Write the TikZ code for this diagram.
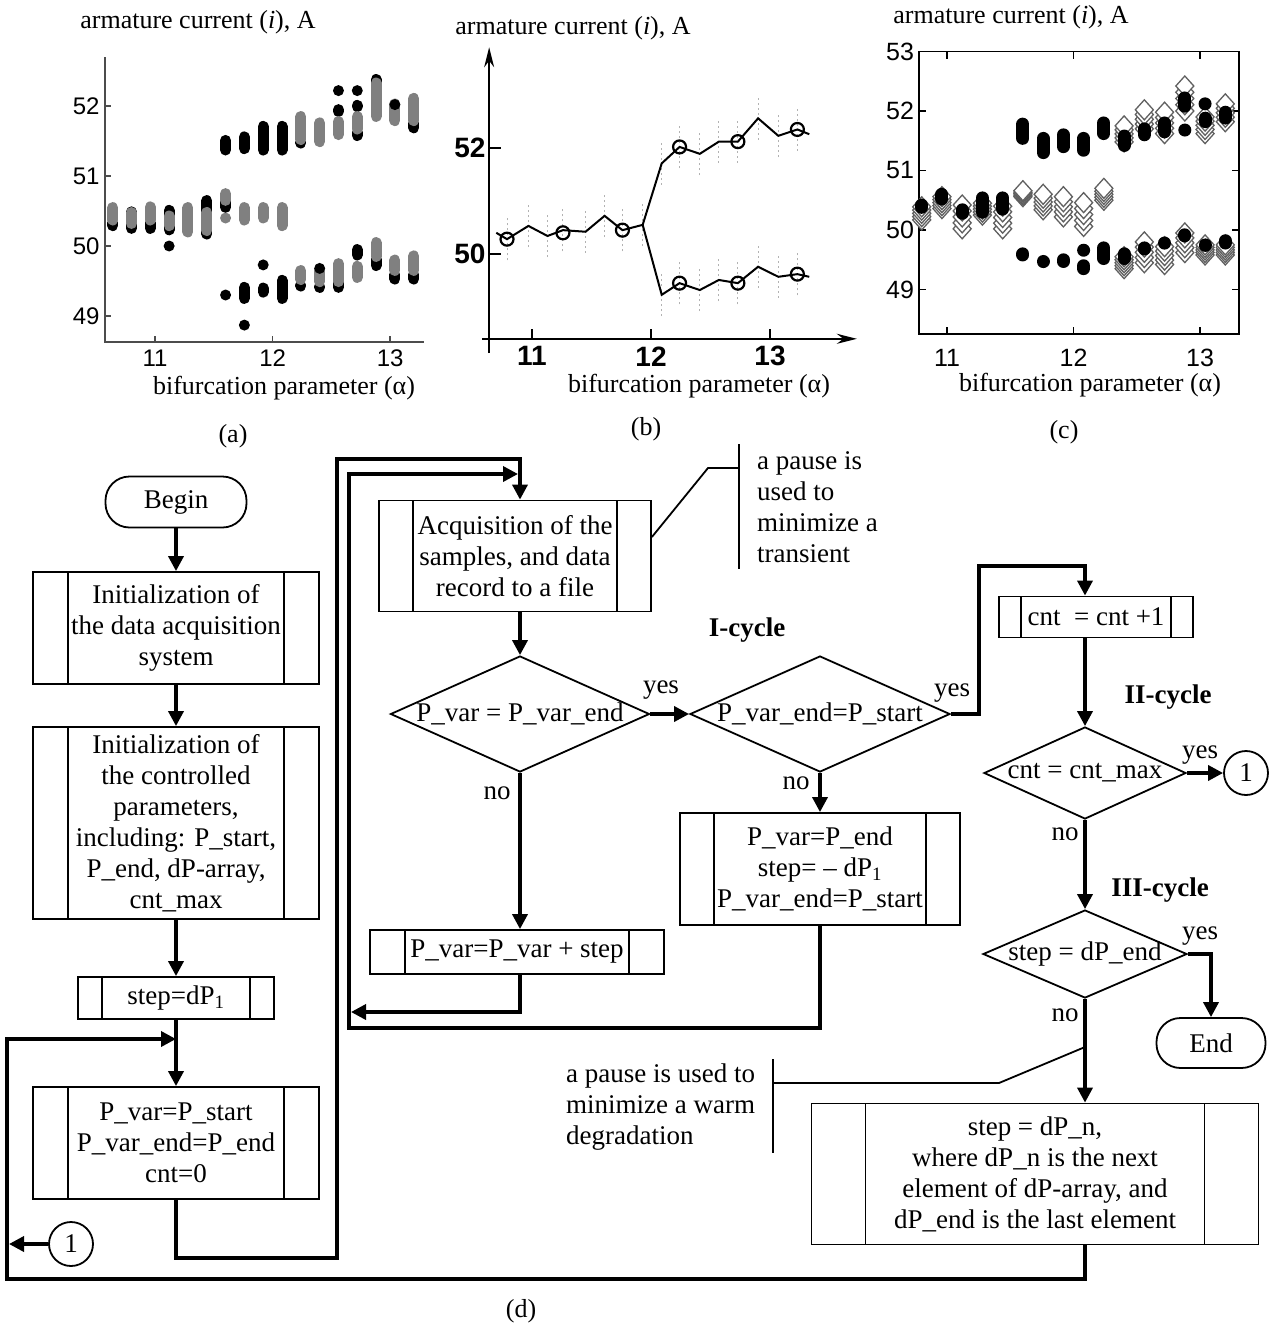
\documentclass[tikz,border=0pt]{standalone}
\usepackage{fontspec}
\setmainfont{Liberation Serif}
\newfontfamily\sansnum{Liberation Sans}
\usetikzlibrary{calc,positioning,arrows.meta,shapes.geometric}

\newcommand{\flowfont}{\fontsize{27}{31}\selectfont}
\newcommand{\plotfont}{\fontsize{26}{30}\selectfont}
\newcommand{\dtext}[1]{\makebox[0pt]{#1}}

\begin{document}
\begin{tikzpicture}[x=1pt,y=-1pt,
  procbox/.style={draw, rectangle, line width=1.8pt, inner sep=2pt, align=center, font=\flowfont,
    path picture={\draw[line width=1.8pt]
      ([xshift=#1]path picture bounding box.north west) -- ([xshift=#1]path picture bounding box.south west)
      ([xshift=-#1]path picture bounding box.north east) -- ([xshift=-#1]path picture bounding box.south east);}},
  procbox/.default=35pt,
  decision/.style={draw, diamond, line width=1.8pt, inner sep=0pt, font=\flowfont},
  terminal/.style={draw, rectangle, rounded corners=24pt, line width=1.8pt, font=\flowfont},
  joint/.style={draw, circle, line width=1.8pt, minimum size=44pt, inner sep=0pt, font=\flowfont},
  tag/.style={font=\flowfont, inner sep=0pt},
  cyclelabel/.style={font=\flowfont\bfseries, inner sep=0pt},
  flow/.style={line width=3.5pt, -{Triangle[length=15pt,width=15pt]}},
  note/.style={line width=1.8pt},
  plottext/.style={font=\plotfont, inner sep=0pt},
  ]

  \useasboundingbox (0,0) rectangle (1271,1328);
  \fill[white] (0,0) rectangle (1271,1328);

  % plot (a)
  \begin{scope}[shift={(-1138.6,3746)}, x={(117.6pt,0pt)}, y={(0pt,70pt)}]
    \draw[gray!60!black, line width=1.5pt] (10.575,52.70) -- (10.575,48.63) -- (13.29,48.63);
    \foreach \v in {49,50,51,52} {
      \draw[gray!60!black, line width=1.5pt] (10.575,\v) -- ++(6pt,0pt);
      \node (ay\v) [anchor=east, font=\sansnum\fontsize{24}{24}\selectfont, inner sep=0pt] at (10.53,\v) {\v};
    }
    \foreach \a in {11,12,13} {
      \draw[gray!60!black, line width=1.5pt] (\a,48.63) -- ++(0pt,6pt);
      \node (ax\a) [font=\sansnum\fontsize{24}{24}\selectfont, inner sep=0pt] at (\a,48.4) {\a};
    }
    \foreach \a/\lo/\hi/\c in {10.64/50.22/50.40/black, 10.64/50.30/50.62/gray,
        10.80/50.18/50.56/black, 10.80/50.25/50.55/gray,
        10.96/50.18/50.40/black, 10.96/50.30/50.63/gray,
        11.12/50.16/50.58/black, 11.12/50.22/50.50/gray,
        11.28/50.13/50.62/gray,
        11.44/50.10/50.72/black, 11.44/50.15/50.55/gray,
        11.60/51.30/51.58/black, 11.60/50.48/50.70/black, 11.60/50.58/50.82/gray,
        11.76/51.32/51.63/black, 11.76/50.30/50.62/gray, 11.76/49.18/49.48/black,
        11.92/51.30/51.78/black, 11.92/50.33/50.62/gray, 11.92/49.27/49.47/black,
        12.08/51.30/51.78/black, 12.08/50.22/50.62/gray, 12.08/49.18/49.58/black,
        12.24/51.40/51.55/black, 12.24/51.45/51.92/gray, 12.24/49.37/49.50/black, 12.24/49.45/49.72/gray,
        12.40/51.42/51.83/gray, 12.40/49.35/49.48/black, 12.40/49.42/49.72/gray,
        12.56/51.85/52.02/black, 12.56/51.52/51.85/gray, 12.56/49.40/49.48/black, 12.56/49.42/49.82/gray,
        12.72/51.55/51.65/black, 12.72/51.92/52.08/black, 12.72/51.60/51.92/gray, 12.72/49.80/50.02/black, 12.72/49.48/49.78/gray,
        12.88/51.98/52.45/black, 12.88/51.78/52.40/gray, 12.88/49.65/49.88/black, 12.88/49.78/50.12/gray,
        13.04/51.72/52.10/gray, 13.04/49.52/49.60/black, 13.04/49.58/49.87/gray,
        13.20/51.68/51.76/black, 13.20/51.72/52.18/gray, 13.20/49.52/49.60/black, 13.20/49.58/49.93/gray}
      \draw[\c, line width=11pt, line cap=round] (\a,\lo) ++(0pt,5pt) -- ($(\a,\hi)+(0pt,-5pt)$);
    \foreach \a/\v/\c in {11.12/50.00/black, 11.60/50.40/gray, 11.60/49.30/black, 11.76/48.87/black,
        11.92/49.73/black, 12.40/49.68/black, 12.56/52.22/black, 12.72/52.22/black, 13.04/52.02/black}
      \fill[\c] (\a,\v) circle[radius=5.5pt];
  \end{scope}
  \node (TitleA) [plottext] at (198,22) {armature current (\textit{i}), A};
  \node (AxisA) [plottext] at (284,388) {bifurcation parameter (α)};
  \node (CapA) [plottext] at (233,436) {(a)};

  % plot (b)
  \begin{scope}[shift={(-777,2904)}, x={(119pt,0pt)}, y={(0pt,53pt)}]
    \foreach \a/\v in {10.79/50.28, 10.97/50.53, 11.13/50.34, 11.26/50.45, 11.45/50.42, 11.61/50.72,
        11.76/50.45, 11.93/50.55, 12.09/51.71, 12.24/52.02, 12.41/51.89, 12.57/52.12, 12.73/52.12,
        12.90/52.56, 13.07/52.23, 13.23/52.35, 12.09/49.23, 12.24/49.45, 12.41/49.32, 12.57/49.51,
        12.73/49.45, 12.90/49.76, 13.07/49.57, 13.23/49.62}
      \draw[gray!60, line width=1pt, dash pattern=on 2pt off 3pt] (\a,\v-0.4) -- (\a,\v+0.4);
    \draw[line width=2pt, -{Stealth[length=20pt,width=10pt]}] (10.64,48.13) -- (10.64,53.9);
    \draw[line width=2pt, -{Stealth[length=20pt,width=10pt]}] (10.58,48.40) -- (13.73,48.40);
    \foreach \v in {50,52} {
      \draw[line width=2pt] (10.64,\v) -- ++(12pt,0pt);
      \node (by\v) [anchor=east, font=\sansnum\bfseries\fontsize{28}{28}\selectfont, inner sep=0pt] at (10.61,\v) {\v};
    }
    \foreach \a in {11,12,13} {
      \draw[line width=2pt] (\a,48.40) -- ++(0pt,10pt);
      \node (bx\a) [font=\sansnum\bfseries\fontsize{28}{28}\selectfont, inner sep=0pt] at (\a,48.07) {\a};
    }
    \draw[line width=2pt] plot coordinates {(10.70,50.40) (10.79,50.28) (10.97,50.53) (11.13,50.34)
        (11.26,50.45) (11.45,50.42) (11.61,50.72) (11.76,50.45) (11.93,50.55) (12.09,51.71)
        (12.24,52.02) (12.41,51.89) (12.57,52.12) (12.73,52.12) (12.90,52.56) (13.07,52.23)
        (13.23,52.35) (13.33,52.26)};
    \draw[line width=2pt] plot coordinates {(11.93,50.55) (12.09,49.23) (12.24,49.45) (12.41,49.32)
        (12.57,49.51) (12.73,49.45) (12.90,49.76) (13.07,49.57) (13.23,49.62) (13.33,49.57)};
    \foreach \a/\v in {10.79/50.28, 11.26/50.40, 11.76/50.45, 12.24/52.02, 12.73/52.12, 13.23/52.35,
        12.24/49.45, 12.73/49.45, 13.23/49.62}
      \draw[line width=2.2pt] (\a,\v) circle[radius=6.5pt];
  \end{scope}
  \node (TitleB) [plottext] at (573,28) {armature current (\textit{i}), A};
  \node (AxisB) [plottext] at (699,386) {bifurcation parameter (α)};
  \node (CapB) [plottext] at (646,429) {(b)};

  % plot (c)
  \begin{scope}[shift={(-444.5,3205)}, x={(126.5pt,0pt)}, y={(0pt,59.5pt)}]
    \draw[line width=1.5pt] (10.78,48.25) rectangle (13.31,53.0);
    \foreach \v in {49,50,51,52,53} {
      \draw[line width=1.5pt] (10.78,\v) -- ++(7pt,0pt) (13.31,\v) -- ++(-7pt,0pt);
      \node (cy\v) [anchor=east, font=\sansnum\fontsize{25}{25}\selectfont, inner sep=0pt] at (10.74,\v) {\v};
    }
    \foreach \a in {11,12,13} {
      \draw[line width=1.5pt] (\a,48.25) -- ++(0pt,7pt) (\a,53.0) -- ++(0pt,-7pt);
      \node (cx\a) [font=\sansnum\fontsize{25}{25}\selectfont, inner sep=0pt] at (\a,47.85) {\a};
    }
    \foreach \a/\lo/\hi in {10.80/50.17/50.39, 10.96/50.36/50.56, 11.12/50.02/50.42, 11.28/50.25/50.45,
        11.44/50.02/50.40, 11.60/50.56/50.66, 11.76/50.34/50.60, 11.92/50.22/50.56, 12.08/50.06/50.46,
        12.24/50.50/50.70, 12.40/51.48/51.75, 12.40/49.35/49.55, 12.56/51.70/52.02, 12.56/49.45/49.80,
        12.72/51.62/51.98, 12.72/49.42/49.72, 12.88/52.00/52.42, 12.88/49.62/49.95,
        13.04/51.62/51.90, 13.04/49.58/49.75, 13.20/51.82/52.12, 13.20/49.58/49.75}
      \foreach \f in {0,0.25,0.5,0.75,1}
        \draw[gray!75!black, fill=white, line width=1.3pt] (\a,{\lo+\f*(\hi-\lo)}) +(0pt,10pt) -- +(9pt,0pt) -- +(0pt,-10pt) -- +(-9pt,0pt) -- cycle;
    \foreach \a/\lo/\hi in {10.80/50.28/50.52, 10.96/50.42/50.70, 11.12/50.18/50.44, 11.28/50.20/50.64,
        11.44/50.25/50.64, 11.60/51.44/51.88, 11.60/49.48/49.70, 11.76/51.20/51.64, 11.76/49.37/49.57,
        11.92/51.30/51.70, 11.92/49.37/49.60, 12.08/51.24/51.64, 12.08/49.25/49.50,
        12.24/51.52/51.90, 12.24/49.42/49.80, 12.40/51.32/51.68, 12.40/49.42/49.70,
        12.56/51.50/51.80, 12.56/49.58/49.80, 12.72/51.55/51.90, 12.72/49.68/49.88,
        12.88/51.98/52.32, 12.88/49.80/50.02, 13.04/51.72/51.98, 13.04/49.64/49.85,
        13.20/51.78/52.08, 13.20/49.68/49.92}
      \draw[black, line width=13pt, line cap=round] (\a,\lo) ++(0pt,6pt) -- ($(\a,\hi)+(0pt,-6pt)$);
    \foreach \a/\v in {12.08/49.66, 12.88/51.68, 13.04/52.12}
      \fill[black] (\a,\v) circle[radius=6.5pt];
  \end{scope}
  \node (TitleC) [plottext] at (1011,17) {armature current (\textit{i}), A};
  \node (AxisC) [plottext] at (1090,385) {bifurcation parameter (α)};
  \node (CapC) [plottext] at (1064,432) {(c)};

  % flowchart (d)
  \node (Begin) [terminal, minimum width=141pt, minimum height=51pt] at (176,502) {Begin};
  \node (InitDaq) [procbox, minimum width=286pt, minimum height=112pt] at (176,628) {Initialization of\\the data acquisition\\system};
  \node (InitPar) [procbox, minimum width=286pt, minimum height=192pt] at (176,823) {Initialization of\\the controlled\\parameters,\\including: P\_start,\\P\_end, dP-array,\\cnt\_max};
  \node (StepInit) [procbox=24pt, minimum width=196pt, minimum height=42pt] at (176,998) {step=dP\textsubscript{1}};
  \node (PStart) [procbox, minimum width=286pt, minimum height=112pt] at (176,1143) {P\_var=P\_start\\P\_var\_end=P\_end\\cnt=0};
  \node (Jump1) [joint] at (71,1244) {1};

  \node (Acquire) [procbox=34pt, minimum width=272pt, minimum height=111pt] at (515,556) {Acquisition of the\\samples, and data\\record to a file};
  \node (CheckEnd) [decision, minimum width=259pt, minimum height=116pt] at (520,714) {\dtext{P\_var = P\_var\_end}};
  \node (StepVar) [procbox, minimum width=294pt, minimum height=44pt] at (517,952) {P\_var=P\_var + step};
  \node (CheckStart) [decision, minimum width=260pt, minimum height=116pt] at (820,714) {\dtext{P\_var\_end=P\_start}};
  \node (Reverse) [procbox=34pt, minimum width=280pt, minimum height=112pt] at (820,869) {P\_var=P\_end\\step= -- dP\textsubscript{1}\\P\_var\_end=P\_start};

  \node (Count) [procbox=22pt, minimum width=194pt, minimum height=41pt] at (1096,617) {cnt\ \ = cnt +1};
  \node (CheckMax) [decision, minimum width=202pt, minimum height=92pt] at (1085,773) {\dtext{cnt = cnt\_max}};
  \node (Jump2) [joint] at (1246,773) {1};
  \node (CheckStep) [decision, minimum width=204pt, minimum height=88pt] at (1085,954) {\dtext{step = dP\_end}};
  \node (End) [terminal, minimum width=109pt, minimum height=50pt] at (1211,1043) {End};
  \node (NextStep) [procbox=54pt, minimum width=447pt, minimum height=141pt] at (1035,1174) {step = dP\_n,\\where dP\_n is the next\\element of dP-array, and\\dP\_end is the last element};

  \node (CycleOne) [cyclelabel] at (747,630) {I-cycle};
  \node (CycleTwo) [cyclelabel] at (1168,697) {II-cycle};
  \node (CycleThree) [cyclelabel] at (1160,890) {III-cycle};

  \node (YesEnd) [tag] at (661,690) {yes};
  \node (YesStart) [tag] at (952,693) {yes};
  \node (YesMax) [tag] at (1200,755) {yes};
  \node (YesStep) [tag] at (1200,936) {yes};
  \node (NoEnd) [tag] at (497,793) {no};
  \node (NoStart) [tag] at (796,783) {no};
  \node (NoMax) [tag] at (1065,834) {no};
  \node (NoStep) [tag] at (1065,1015) {no};

  \node (PauseNote) [tag, align=left, anchor=west] at (757,507) {a pause is\\used to\\minimize a\\transient};
  \node (WarmNote) [tag, align=left, anchor=west] at (566,1107) {a pause is used to\\minimize a warm\\degradation};
  \node (CapD) [plottext] at (521,1311) {(d)};

  \coordinate (Merge1) at (176,1039);
  \coordinate (Merge2) at (518,474);
  \coordinate (Merge3) at (351,1012);

  \draw[flow] (Begin) -- (InitDaq);
  \draw[flow] (InitDaq) -- (InitPar);
  \draw[flow] (InitPar) -- (StepInit);
  \draw[flow] (StepInit) -- (PStart);
  \draw[flow] (PStart.south) -- (176,1258) -- (337,1258) -- (337,459) -- (520,459) -- (Acquire.north -| CheckEnd.north);
  \draw[flow] (Reverse.south) -- (820,1028) -- (349,1028) -- (349,474) -- (Merge2);
  \draw[flow] (StepVar.south -| CheckEnd.south) -- (520,1012) -- (Merge3);
  \draw[flow] (Acquire.south -| CheckEnd.north) -- (CheckEnd.north);
  \draw[flow] (CheckEnd.east) -- (CheckStart.west);
  \draw[flow] (CheckEnd.south) -- (StepVar.north -| CheckEnd.south);
  \draw[flow] (CheckStart.south) -- (Reverse.north);
  \draw[flow] (CheckStart.east) -- (979,714) -- (979,566) -- (1085,566) -- (Count.north -| CheckMax.north);
  \draw[flow] (Count.south -| CheckMax.north) -- (CheckMax.north);
  \draw[flow] (CheckMax.east) -- (Jump2.west);
  \draw[flow] (CheckMax.south) -- (CheckStep.north);
  \draw[flow] (CheckStep.east) -- (1211,954) -- (End.north);
  \draw[flow] (CheckStep.south) -- (NextStep.north -| CheckStep.south);
  \draw[flow] (NextStep.south -| CheckStep.south) -- (1085,1279) -- (7,1279) -- (7,1039) -- (Merge1);
  \draw[flow] (Jump1.west) -- (9,1244);

  \draw[note] ($(Acquire.east)+(0,-19)$) -- (708,468) -- (739,468);
  \draw[note] (739,444) -- (739,569);
  \draw[note] (1085,1047) -- (999,1083) -- (773,1083);
  \draw[note] (773,1059) -- (773,1153);

\end{tikzpicture}
\end{document}
